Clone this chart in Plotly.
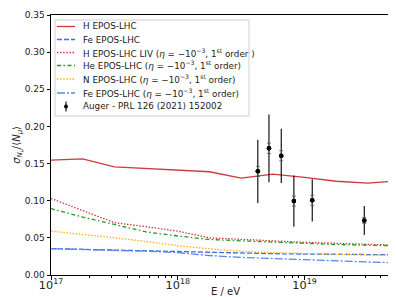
import plotly.graph_objects as go

log_e = [17.0, 17.25, 17.5, 17.75, 18.0, 18.25, 18.5, 18.75, 19.0, 19.25, 19.5, 19.75]
energy = [10.0 ** v for v in log_e]

h_epos = [0.1546, 0.1563, 0.1456, 0.1432, 0.1410, 0.1390, 0.1303, 0.1358, 0.1315, 0.1262, 0.1236, 0.1270]
fe_epos = [0.0355, 0.0345, 0.0335, 0.0325, 0.0312, 0.0300, 0.0292, 0.0287, 0.0282, 0.0277, 0.0273, 0.0272]
h_liv = [0.1030, 0.0870, 0.0705, 0.0650, 0.0590, 0.0500, 0.0475, 0.0460, 0.0440, 0.0425, 0.0412, 0.0400]
he_liv = [0.0894, 0.0780, 0.0680, 0.0580, 0.0525, 0.0478, 0.0460, 0.0440, 0.0422, 0.0410, 0.0400, 0.0393]
n_liv = [0.0590, 0.0550, 0.0500, 0.0452, 0.0395, 0.0352, 0.0320, 0.0300, 0.0288, 0.0278, 0.0268, 0.0262]
fe_liv = [0.0355, 0.0345, 0.0335, 0.0320, 0.0302, 0.0262, 0.0237, 0.0220, 0.0202, 0.0188, 0.0175, 0.0163]

auger_e = [4.28e18, 5.24e18, 6.55e18, 8.24e18, 1.15e19, 2.96e19]
auger_val = [0.1395, 0.1705, 0.1605, 0.0995, 0.1005, 0.0735]
auger_stat = [0.0425, 0.0455, 0.0365, 0.0345, 0.0285, 0.0195]
auger_sys = [0.0068, 0.0070, 0.0068, 0.0068, 0.0068, 0.0040]

minor_ticks = [float(m) * 10.0 ** d for d in (17, 18, 19) for m in range(2, 10) if m * 10.0 ** d < 5.7e19]

liv = "(<i>η</i> = −10<sup>−3</sup>, 1<sup>st</sup> order)"
names = [
    "H EPOS-LHC",
    "Fe EPOS-LHC",
    "H EPOS-LHC LIV (<i>η</i> = −10<sup>−3</sup>, 1<sup>st</sup> order )",
    "He EPOS-LHC " + liv,
    "N EPOS-LHC " + liv,
    "Fe EPOS-LHC " + liv,
]
auger_name = "Auger - PRL 126 (2021) 152002"
series = [h_epos, fe_epos, h_liv, he_liv, n_liv, fe_liv]
colors = ["#d0393b", "#3a6fe8", "#d0393b", "#1f9a1f", "#ffae1a", "#5b84ec"]
dashes = ["solid", "5px,2px", "1.5px,1.6px", "4px,2.5px,1.5px,2.5px", "1.5px,1.6px", "8px,2px,2px,2px"]

fig = go.Figure()
for nm, ys, c, d in zip(names, series, colors, dashes):
    fig.add_trace(go.Scatter(x=energy, y=ys, mode="lines", name=nm, showlegend=False,
                             line=dict(color=c, dash=d, width=1.3)))

fig.add_trace(go.Scatter(
    x=auger_e, y=auger_val, mode="markers", name=auger_name, showlegend=False,
    marker=dict(color="black", size=4.5),
    error_y=dict(type="data", array=auger_stat, color="black", thickness=1.1, width=0)))
fig.add_trace(go.Scatter(
    x=auger_e, y=auger_val, mode="markers", showlegend=False,
    marker=dict(color="black", size=4.5),
    error_y=dict(type="data", array=auger_sys, color="#555555", thickness=0.8, width=2)))
# invisible trace to anchor the minor-tick axis
fig.add_trace(go.Scatter(x=auger_e, y=auger_val, xaxis="x2", mode="markers",
                         marker=dict(opacity=0), showlegend=False, hoverinfo="skip"))

axis_common = dict(showline=True, linecolor="black", linewidth=1, mirror=True,
                   ticks="outside", ticklen=3.5, tickcolor="black", showgrid=False,
                   zeroline=False, automargin=False, tickfont=dict(size=9, color="#222"))

fig.update_layout(
    template="none",
    xaxis=dict(type="log", range=[17, 19.753], dtick=1, exponentformat="power",
               ticklabelstandoff=-4, **axis_common),
    xaxis2=dict(type="log", range=[17, 19.753], overlaying="x", side="bottom", anchor="y",
                tickvals=minor_ticks, ticktext=[""] * len(minor_ticks), ticks="outside",
                ticklen=2, tickcolor="black", showgrid=False, zeroline=False, showline=False,
                automargin=False),
    yaxis=dict(range=[0, 0.35], dtick=0.05, tickformat=".2f", **axis_common),
)

# axis titles
fig.add_annotation(text="E / eV", xref="paper", yref="paper", x=0.5, y=-0.062,
                   xanchor="center", yanchor="middle", showarrow=False,
                   font=dict(size=10, color="#222"))
fig.add_annotation(text="<i>σ</i><sub><i>N</i><sub><i>μ</i></sub></sub>/⟨<i>N</i><sub><i>μ</i></sub>⟩",
                   xref="paper", yref="paper", x=-0.095, y=0.5, textangle=-90,
                   xanchor="center", yanchor="middle", showarrow=False,
                   font=dict(size=10, color="#222"))

# manual legend (compact like the reference)
def px_x(p):
    return (p - 43) / 349.0

def px_y(p):
    return (267 - p) / 260.0

fig.add_shape(type="rect", xref="paper", yref="paper",
              x0=px_x(47), x1=px_x(241), y0=px_y(108), y1=px_y(12),
              fillcolor="rgba(255,255,255,0.8)", line=dict(color="#d0d0d0", width=1), layer="above")
rows = [18.5, 31.5, 44.5, 57.5, 71, 85, 98.5]
for nm, c, d, yy in zip(names, colors, dashes, rows):
    fig.add_shape(type="line", xref="paper", yref="paper", x0=px_x(49), x1=px_x(67),
                  y0=px_y(yy), y1=px_y(yy), line=dict(color=c, dash=d, width=1.3), layer="above")
    fig.add_annotation(text=nm, xref="paper", yref="paper", x=px_x(73), y=px_y(yy),
                       xanchor="left", yanchor="middle", showarrow=False,
                       font=dict(size=8.8, color="#222"))
ya = rows[-1]
fig.add_shape(type="line", xref="paper", yref="paper", x0=px_x(58), x1=px_x(58),
              y0=px_y(ya + 5), y1=px_y(ya - 5), line=dict(color="black", width=1.1), layer="above")
fig.add_shape(type="circle", xref="paper", yref="paper", x0=px_x(56), x1=px_x(60),
              y0=px_y(ya + 2), y1=px_y(ya - 2), fillcolor="black", line=dict(color="black", width=0),
              layer="above")
fig.add_annotation(text=auger_name, xref="paper", yref="paper", x=px_x(73), y=px_y(ya),
                   xanchor="left", yanchor="middle", showarrow=False,
                   font=dict(size=8.8, color="#222"))

fig.update_layout(
    width=396, height=297,
    margin=dict(l=43, r=4, t=7, b=30, pad=0),
    paper_bgcolor="white", plot_bgcolor="white",
    font=dict(family="DejaVu Sans", size=9, color="#222"),
    showlegend=False,
)

fig.write_html("out.html")
